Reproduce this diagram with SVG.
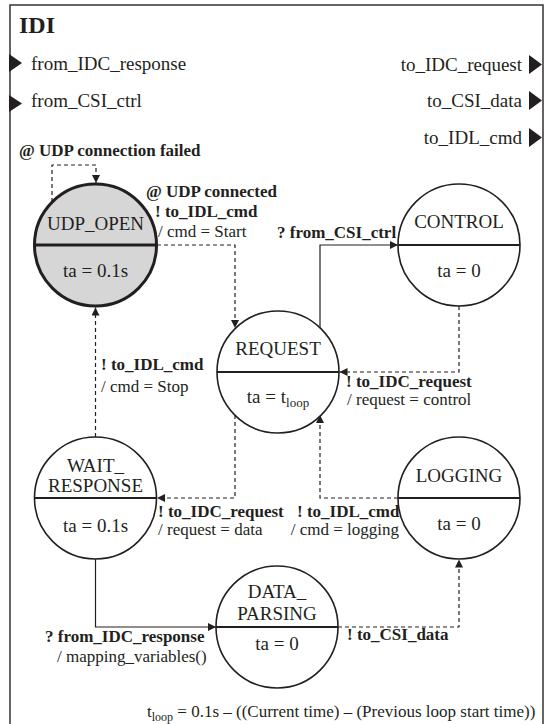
<svg xmlns="http://www.w3.org/2000/svg" width="548" height="724" viewBox="0 0 548 724">
  <style>
    text { font-family: "Liberation Serif", "Times New Roman", serif; fill: #231f20; }
    .title { font-size: 24px; font-weight: bold; }
    .port { font-size: 19px; }
    .state { font-size: 19px; text-anchor: middle; }
    .lbl { font-size: 17px; }
    .lblb { font-size: 17px; font-weight: bold; }
    .st { fill: #ffffff; stroke: #231f20; stroke-width: 1.6; }
    .div { stroke: #231f20; stroke-width: 2; }
    .init { fill: #d6d6d6; stroke: #231f20; stroke-width: 3; }
    .initdiv { stroke: #231f20; stroke-width: 3; }
    .solid { fill: none; stroke: #231f20; stroke-width: 1.2; }
    .dash { fill: none; stroke: #231f20; stroke-width: 1.2; stroke-dasharray: 4 3; }
    .tri { fill: #231f20; }
  </style>
  <defs>
    <marker id="arrow" viewBox="0 0 10 10" refX="10" refY="5" markerWidth="9" markerHeight="8" markerUnits="userSpaceOnUse" orient="auto">
      <path d="M0,0 L10,5 L0,10 z" fill="#231f20"/>
    </marker>
  </defs>

  <!-- block frame (open at the bottom edge) -->
  <path d="M10,730 V5 H543 V730" fill="none" stroke="#333333" stroke-width="1.5"/>
  <text class="title" x="19" y="33">IDI</text>

  <!-- input / output ports -->
  <g id="ports">
    <polygon class="tri" points="9,54 22,63 9,72"/>
    <text class="port" x="31" y="70">from_IDC_response</text>
    <polygon class="tri" points="9,95 22,103.5 9,112"/>
    <text class="port" x="31" y="107">from_CSI_ctrl</text>

    <polygon class="tri" points="529,55 542,64.5 529,74"/>
    <text class="port" x="522" y="71" text-anchor="end">to_IDC_request</text>
    <polygon class="tri" points="529,91 542,100.5 529,110"/>
    <text class="port" x="522" y="107" text-anchor="end">to_CSI_data</text>
    <polygon class="tri" points="529,128 542,137.5 529,147"/>
    <text class="port" x="522" y="144" text-anchor="end">to_IDL_cmd</text>
  </g>

  <!-- transitions -->
  <g id="connectors">
    <!-- UDP_OPEN self loop -->
    <path class="dash" d="M52,202 V165 H96 V183" marker-end="url(#arrow)"/>
    <!-- UDP_OPEN -> REQUEST -->
    <path class="dash" d="M157,245 H235 V328" marker-end="url(#arrow)"/>
    <!-- REQUEST -> CONTROL -->
    <path class="solid" d="M320,329 V245 H398" marker-end="url(#arrow)"/>
    <!-- CONTROL -> REQUEST -->
    <path class="dash" d="M459,306 V372 H339.5" marker-end="url(#arrow)"/>
    <!-- REQUEST -> WAIT_RESPONSE -->
    <path class="dash" d="M235,415 V498 H157" marker-end="url(#arrow)"/>
    <!-- WAIT_RESPONSE -> UDP_OPEN -->
    <path class="dash" d="M95.5,437 V307.5" marker-end="url(#arrow)"/>
    <!-- LOGGING -> REQUEST -->
    <path class="dash" d="M398,498 H320 V415" marker-end="url(#arrow)"/>
    <!-- WAIT_RESPONSE -> DATA_PARSING -->
    <path class="solid" d="M95.5,559 V627 H216" marker-end="url(#arrow)"/>
    <!-- DATA_PARSING -> LOGGING -->
    <path class="dash" d="M338,627 H459 V559.5" marker-end="url(#arrow)"/>

    <!-- transition labels -->
    <text class="lblb" x="19" y="156">@ UDP connection failed</text>

    <text class="lblb" x="146" y="197">@ UDP connected</text>
    <text class="lblb" x="155" y="217">! to_IDL_cmd</text>
    <text class="lbl" x="158" y="237">/ cmd = Start</text>

    <text class="lblb" x="277" y="238">? from_CSI_ctrl</text>

    <text class="lblb" x="346" y="387">! to_IDC_request</text>
    <text class="lbl" x="347" y="405">/ request = control</text>

    <text class="lblb" x="101" y="370">! to_IDL_cmd</text>
    <text class="lbl" x="101" y="392">/ cmd = Stop</text>

    <text class="lblb" x="158" y="517">! to_IDC_request</text>
    <text class="lbl" x="158" y="535">/ request = data</text>

    <text class="lblb" x="297" y="517">! to_IDL_cmd</text>
    <text class="lbl" x="399" y="535" text-anchor="end">/ cmd = logging</text>

    <text class="lblb" x="45" y="642">? from_IDC_response</text>
    <text class="lbl" x="57" y="662">/ mapping_variables()</text>

    <text class="lblb" x="347" y="640">! to_CSI_data</text>
  </g>

  <!-- states -->
  <g id="UDP_OPEN">
    <circle class="init" cx="95.5" cy="245" r="61"/>
    <line class="initdiv" x1="34.5" y1="245" x2="156.5" y2="245"/>
    <text class="state" x="95.5" y="230">UDP_OPEN</text>
    <text class="state" x="95.5" y="277">ta = 0.1s</text>
  </g>

  <g id="CONTROL">
    <circle class="st" cx="459" cy="245" r="61"/>
    <line class="div" x1="398" y1="245" x2="520" y2="245"/>
    <text class="state" x="459" y="228">CONTROL</text>
    <text class="state" x="459" y="277">ta = 0</text>
  </g>

  <g id="REQUEST">
    <circle class="st" cx="278" cy="372" r="61"/>
    <line class="div" x1="217" y1="372" x2="339" y2="372"/>
    <text class="state" x="278" y="355">REQUEST</text>
    <text class="state" x="278" y="403">ta = t<tspan font-size="13" dy="4">loop</tspan></text>
  </g>

  <g id="WAIT_RESPONSE">
    <circle class="st" cx="95.5" cy="498" r="61"/>
    <line class="div" x1="34.5" y1="498" x2="156.5" y2="498"/>
    <text class="state" x="95.5" y="472">WAIT_</text>
    <text class="state" x="95.5" y="492">RESPONSE</text>
    <text class="state" x="95.5" y="532">ta = 0.1s</text>
  </g>

  <g id="LOGGING">
    <circle class="st" cx="459" cy="498" r="61"/>
    <line class="div" x1="398" y1="498" x2="520" y2="498"/>
    <text class="state" x="459" y="482">LOGGING</text>
    <text class="state" x="459" y="530">ta = 0</text>
  </g>

  <g id="DATA_PARSING">
    <circle class="st" cx="277" cy="627" r="61"/>
    <line class="div" x1="216" y1="627" x2="338" y2="627"/>
    <text class="state" x="277" y="598">DATA_</text>
    <text class="state" x="277" y="620">PARSING</text>
    <text class="state" x="277" y="650">ta = 0</text>
  </g>

  <!-- loop time definition -->
  <text class="lbl" x="147" y="717">t<tspan font-size="12" dy="4">loop</tspan><tspan dy="-4"> = 0.1s – ((Current time) – (Previous loop start time))</tspan></text>
</svg>
